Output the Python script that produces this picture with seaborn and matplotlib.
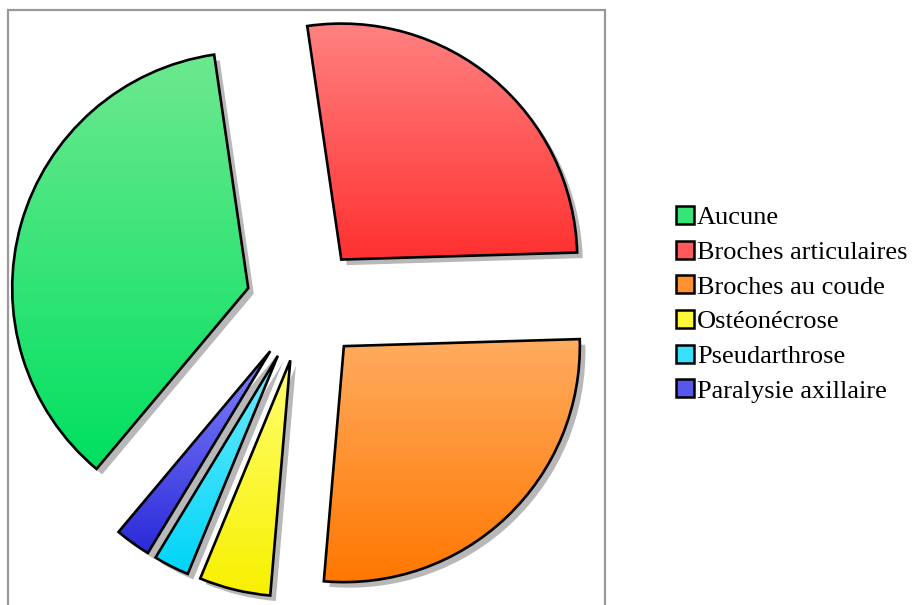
import numpy as np
import matplotlib
matplotlib.use('Agg')
import matplotlib.pyplot as plt
from matplotlib.colors import to_rgb
from matplotlib.patches import Patch, Rectangle
import seaborn as sns

# Complications data (counts)
labels = ['Aucune', 'Broches articulaires', 'Broches au coude',
          'Ostéonécrose', 'Pseudarthrose', 'Paralysie axillaire']
counts = [15, 11, 11, 2, 1, 1]
top_colors = ['#6ee890', '#ff8282', '#ffac60', '#ffff70', '#70ecff', '#8484ff']
bottom_colors = ['#00e060', '#ff3030', '#ff7700', '#f8f000', '#00d4f8', '#2a2ad8']

sns.set_theme(style='white')
plt.rcParams['font.family'] = ['Liberation Serif', 'DejaVu Serif']
plt.rcParams['text.color'] = 'black'

fig = plt.figure(figsize=(9.16, 6.05), dpi=100)
ax = fig.add_axes([0, 0, 1, 1])

# axes units are pixels, so explode is an offset in pixels
wedges, _ = ax.pie(counts, startangle=230, counterclock=False,
                   center=(304, 301), radius=236, explode=[58] * len(counts),
                   wedgeprops=dict(edgecolor='black', linewidth=1.9),
                   shadow={'ox': 4, 'oy': -4, 'facecolor': '#9a9a9a',
                           'edgecolor': 'none', 'alpha': 0.7})

# vertical gradient inside each wedge
for w, c_top, c_bot in zip(wedges, top_colors, bottom_colors):
    verts = w.get_path().vertices
    x0, y0 = verts.min(axis=0)
    x1, y1 = verts.max(axis=0)
    t = np.linspace(0, 1, 200)[:, None]
    grad = (1 - t) * np.array(to_rgb(c_top)) + t * np.array(to_rgb(c_bot))
    im = ax.imshow(grad[:, None, :], extent=(x0, x1, y0, y1), origin='upper',
                   aspect='auto', zorder=1.5, interpolation='bilinear')
    im.set_clip_path(w)
    w.set_facecolor('none')
    w.set_zorder(2)

# gray frame around the pie area
ax.add_patch(Rectangle((8, -30), 597, 625, facecolor='none',
                       edgecolor='#999999', linewidth=1.6, zorder=0.5))

ax.set_xlim(0, 916)
ax.set_ylim(0, 605)
ax.set_aspect('equal')
ax.axis('off')

mid_colors = [tuple((np.array(to_rgb(a)) + np.array(to_rgb(b))) / 2)
              for a, b in zip(top_colors, bottom_colors)]
handles = [Patch(facecolor=c, edgecolor='black', linewidth=1.8) for c in mid_colors]
fig.legend(handles, labels, loc='upper left',
           bbox_to_anchor=(676 / 916, 1 - 206 / 605), frameon=False,
           fontsize=19, handlelength=0.68, handleheight=0.68,
           handletextpad=0.12, labelspacing=0.43, borderpad=0, borderaxespad=0)

fig.savefig('out.png', dpi=100)
